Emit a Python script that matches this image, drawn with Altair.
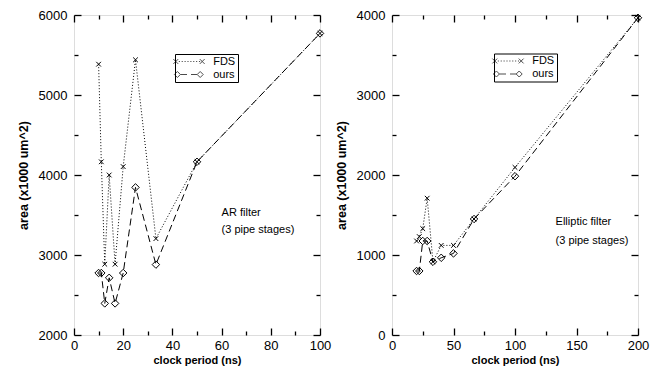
import altair as alt
import pandas as pd

# ---------------- data ----------------
ar_period = [10, 11.1, 12.5, 14.3, 16.7, 20, 25, 33.3, 50, 100]
ar_fds = [5385, 4165, 2885, 4000, 2885, 4105, 5440, 3205, 4165, 5770]
ar_ours = [2775, 2775, 2395, 2715, 2395, 2775, 3845, 2880, 4165, 5770]

el_period = [20, 22.2, 25, 28.6, 33.3, 40, 50, 66.7, 100, 200]
el_fds = [1175, 1230, 1330, 1710, 915, 1120, 1120, 1450, 2095, 3965]
el_ours = [800, 800, 1175, 1175, 915, 965, 1020, 1450, 1985, 3965]

series_names = ["FDS", "ours"]

ar_xticks = [0, 20, 40, 60, 80, 100]
ar_xminor = [10, 30, 50, 70, 90]
ar_yticks = [2000, 3000, 4000, 5000, 6000]
ar_yminor = [2500, 3500, 4500, 5500]

el_xticks = [0, 50, 100, 150, 200]
el_xminor = [25, 75, 125, 175]
el_yticks = [0, 1000, 2000, 3000, 4000]
el_yminor = [500, 1500, 2500, 3500]

ar_note = ["AR filter", "(3 pipe stages)"]
ar_note_x = [60, 60]
ar_note_y = [3530, 3310]
el_note = ["Elliptic filter", "(3 pipe stages)"]
el_note_x = [133, 133]
el_note_y = [1415, 1175]

x_title = "clock period (ns)"
y_title = "area (x1000 um^2)"

# ---------------- styling ----------------
FONT = "Liberation Sans"
XMARK = "M-1,-1L1,1M-1,1L1,-1"

_dots = "".join(f"M{-2.55 + 0.72 * i:.2f},0h0.28" for i in range(8))
FDS_LEG = ("M-3.9,-0.6L-2.7,0.6M-3.9,0.6L-2.7,-0.6" + _dots +
           "M2.7,-0.6L3.9,0.6M2.7,0.6L3.9,-0.6")
OURS_LEG = ("M-3.65,0L-2.9,-0.75L-2.15,0L-2.9,0.75Z"
            "M-2.15,0L-0.5,0M0.5,0L2.05,0"
            "M2.05,0L2.8,-0.75L3.55,0L2.8,0.75Z")


def axis(orient, values, length, labels=False, title=None, pad=7,
         title_size=12.5, title_pad=8):
    kw = dict(orient=orient, values=values, tickSize=length, offset=-length,
              domain=False, grid=False, labels=labels, ticks=True,
              tickColor="#000000", tickWidth=1.3, tickOpacity=1, zindex=2,
              labelOverlap=False, minExtent=0)
    if labels:
        kw.update(labelFont=FONT, labelFontSize=13, labelColor="black",
                  labelPadding=pad, labelFlush=False, format="d")
    if title:
        kw.update(title=title, titleFont=FONT, titleFontSize=title_size,
                  titleFontWeight="bold", titleColor="black",
                  titlePadding=title_pad)
    else:
        kw.update(title=None)
    return alt.Axis(**kw)


def panel(period, fds, ours, xdom, ydom, xt, xm, yt, ym,
          note, nx, ny, legx, legy):
    n = len(period)
    df = pd.DataFrame({
        "period": period + period,
        "area": fds + ours,
        "series": ["FDS"] * n + ["ours"] * n,
    })
    xs = alt.Scale(domain=xdom, nice=False, zero=False)
    ys = alt.Scale(domain=ydom, nice=False, zero=False)
    base = alt.Chart(df)
    fds_df = base.transform_filter("datum.series == 'FDS'")
    ours_df = base.transform_filter("datum.series == 'ours'")

    fds_line = fds_df.mark_line(color="black", strokeWidth=1,
                                strokeDash=[1, 2]).encode(
        x=alt.X("period:Q", scale=xs,
                axis=axis("bottom", xt, 7, labels=True, title=x_title, pad=4,
                          title_size=11, title_pad=2)),
        y=alt.Y("area:Q", scale=ys,
                axis=axis("left", yt, 7, labels=True, title=y_title, pad=7)),
    )
    fds_pts = fds_df.mark_point(shape=XMARK, size=22, filled=False,
                                color="black", strokeWidth=1,
                                opacity=1).encode(
        x=alt.X("period:Q", scale=xs, axis=axis("top", xt, 7)),
        y=alt.Y("area:Q", scale=ys, axis=axis("right", yt, 7)),
    )
    ours_line = ours_df.mark_line(color="black", strokeWidth=1,
                                  strokeDash=[7, 4]).encode(
        x=alt.X("period:Q", scale=xs, axis=axis("bottom", xm, 4)),
        y=alt.Y("area:Q", scale=ys, axis=axis("left", ym, 4)),
    )
    ours_pts = ours_df.mark_point(shape="diamond", size=56, filled=False,
                                  color="black", strokeWidth=1,
                                  opacity=1).encode(
        x=alt.X("period:Q", scale=xs, axis=axis("top", xm, 4)),
        y=alt.Y("area:Q", scale=ys, axis=axis("right", ym, 4)),
    )
    legend_layer = base.transform_filter("datum.period < 0").mark_point(
        color="black", filled=False, strokeWidth=1).encode(
        shape=alt.Shape(
            "series:N",
            scale=alt.Scale(domain=series_names, range=[FDS_LEG, OURS_LEG]),
            legend=alt.Legend(
                orient="none", legendX=legx, legendY=legy, title=None,
                padding=2, strokeColor="black", fillColor="white",
                labelFont=FONT, labelFontSize=11, labelColor="black",
                symbolSize=64, symbolOffset=6.5, labelOffset=18.7,
                rowPadding=1, symbolStrokeWidth=1,
                symbolStrokeColor="black", symbolFillColor="transparent",
                labelExpr="datum.label + '     '",
            ),
        )
    )
    notes = alt.Chart(pd.DataFrame({"t": note, "x": nx, "y": ny})).mark_text(
        align="left", baseline="middle", font=FONT, fontSize=11,
        color="black").encode(
        x=alt.X("x:Q", scale=xs, axis=None),
        y=alt.Y("y:Q", scale=ys, axis=None),
        text="t:N",
    )
    return alt.layer(fds_line, fds_pts, ours_line, ours_pts, notes,
                     legend_layer).resolve_axis(
        x="independent", y="independent").properties(width=246, height=320)


left = panel(ar_period, ar_fds, ar_ours, [0, 100], [2000, 6000],
             ar_xticks, ar_xminor, ar_yticks, ar_yminor,
             ar_note, ar_note_x, ar_note_y, 101, 39)
right = panel(el_period, el_fds, el_ours, [0, 200], [0, 4000],
              el_xticks, el_xminor, el_yticks, el_yminor,
              el_note, el_note_x, el_note_y, 102, 38.5)

chart = alt.hconcat(left, right, spacing=2).resolve_scale(
    shape="independent").resolve_legend(shape="independent").properties(
    padding={"left": 8, "top": 0, "right": 0, "bottom": 0}
).configure_view(stroke="black", strokeWidth=1).configure(
    background="white")

chart.save("out.html", embed_options={"renderer": "svg", "actions": False})
